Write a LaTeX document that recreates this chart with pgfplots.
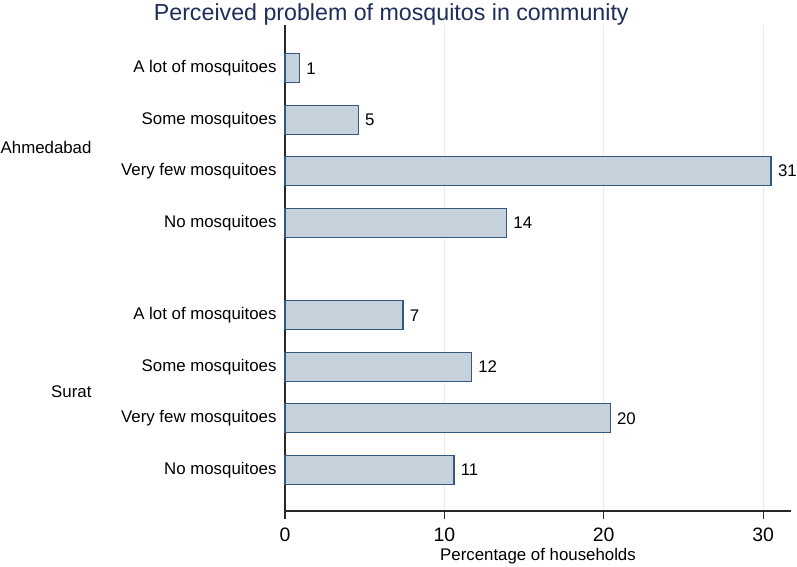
\documentclass[border=0pt]{standalone}
\usepackage{pgfplots}
\pgfplotsset{compat=1.18}
\usepackage{fontspec}
\setmainfont{Liberation Sans}
\definecolor{barfill}{RGB}{197,209,219}
\definecolor{baredge}{RGB}{55,88,125}
\definecolor{gridc}{RGB}{228,236,241}
\definecolor{titlec}{RGB}{30,45,90}
\definecolor{axisc}{RGB}{40,40,40}
\begin{document}
\begin{tikzpicture}
\begin{axis}[
  scale only axis, width=506bp, height=486bp,
  xmin=0, xmax=31.75, ymin=-0.8, ymax=8.64,
  axis x line*=bottom, axis y line*=left,
  axis line style={axisc, line width=1.2bp},
  /pgf/number format/assume math mode=true,
  xtick={0,10,20,30},
  xtick align=outside, major tick length=8bp,
  xtick style={axisc, line width=1.2bp},
  xticklabel style={font=\fontsize{19.5}{22}\selectfont, text=black, yshift=-5bp},
  ytick={0,1,2,3,4.8,5.8,6.8,7.8},
  yticklabels={No mosquitoes, Very few mosquitoes, Some mosquitoes, A lot of mosquitoes,
               No mosquitoes, Very few mosquitoes, Some mosquitoes, A lot of mosquitoes},
  ytick style={draw=none},
  yticklabel style={font=\fontsize{16.9}{19}\selectfont, text=black, xshift=3bp},
  xmajorgrids, grid style={gridc, line width=1.2bp},
  xlabel={Percentage of households},
  xlabel style={font=\fontsize{16.9}{19}\selectfont, yshift=0bp},
  title={Perceived problem of mosquitos in community},
  title style={font=\fontsize{23.3}{26}\selectfont, text=titlec, at={(rel axis cs:0.21,1)}, anchor=south, yshift=-10bp},
  xbar, bar width=29bp, bar shift=0pt,
  nodes near coords={\pgfmathprintnumber[fixed,precision=0]{\pgfplotspointmeta}},
  point meta=x,
  every node near coord/.append style={font=\fontsize{16.9}{19}\selectfont, text=black, xshift=3bp},
  clip=false,
]
\addplot[fill=barfill, draw=baredge, line width=1.2bp] coordinates {
  (10.6,0) (20.4,1) (11.7,2) (7.4,3)
  (13.9,4.8) (30.5,5.8) (4.6,6.8) (0.9,7.8)
};
\node[anchor=east, font=\fontsize{16.9}{19}\selectfont] at ([xshift=-190bp]axis cs:0,6.27) {Ahmedabad};
\node[anchor=east, font=\fontsize{16.9}{19}\selectfont] at ([xshift=-190bp]axis cs:0,1.51) {Surat};
\coordinate (bl) at (rel axis cs:0,0);
\coordinate (tr) at (rel axis cs:1,1);
\end{axis}
\pgfresetboundingbox
\path ([xshift=-285bp,yshift=-56bp]bl) rectangle ([xshift=6bp,yshift=25bp]tr);
\end{tikzpicture}
\end{document}
